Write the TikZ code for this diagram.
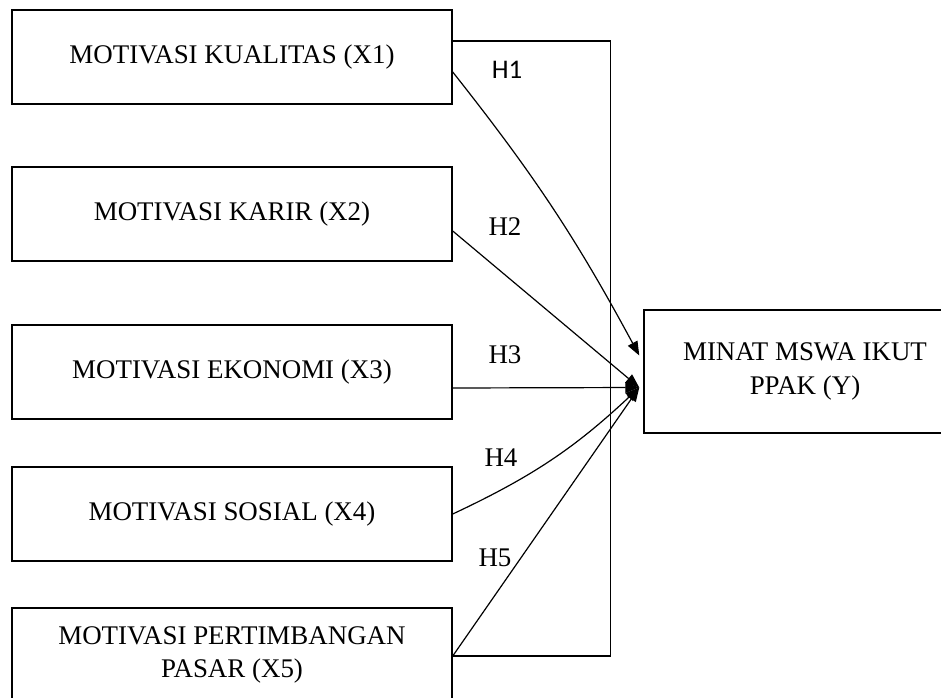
\documentclass[tikz,border=0pt]{standalone}
\usepackage{fontspec}
\setmainfont{Liberation Serif}
\newfontfamily\hlabelfont{Carlito}
\usetikzlibrary{arrows.meta}

\begin{document}
\begin{tikzpicture}[
  x=0.75pt, y=-0.75pt,
  every node/.style={
    font=\fontsize{20.2}{25}\selectfont,
    inner sep=0pt
  },
  varbox/.style={
    rectangle,
    draw,
    line width=1.1pt,
    minimum width=330pt,
    minimum height=70.5pt,
    align=center
  },
  link/.style={
    -{Triangle[length=10.5pt,width=8pt]},
    line width=0.9pt
  }
]
  \useasboundingbox (0,0) rectangle (941,698);

  \node[varbox] (x1) at (232,57) {MOTIVASI KUALITAS (X1)};
  \node[varbox] (x2) at (232,214) {MOTIVASI KARIR (X2)};
  \node[varbox] (x3) at (232,372) {MOTIVASI EKONOMI (X3)};
  \node[varbox] (x4) at (232,514) {MOTIVASI SOSIAL (X4)};
  \node[varbox] (x5) at (232,655) {MOTIVASI PERTIMBANGAN\\PASAR (X5)};

  \node[varbox, minimum width=241.5pt, minimum height=92.25pt] (minat) at (805,371.5) {MINAT MSWA IKUT\\PPAK (Y)};

  \coordinate (tipa) at ([shift={(-4,-16)}]minat.west);
  \coordinate (tipb) at ([shift={(-4,16)}]minat.west);

  \draw[line width=0.9pt] ([shift={(0,-16)}]x1.east) -| ([shift={(158,1)}]x5.east) -- ([shift={(0,1)}]x5.east);

  \draw[link] ([shift={(0,15)}]x1.east) to[bend left=5] (tipa);
  \draw[link] ([shift={(0,17)}]x2.east) -- (tipb);
  \draw[link] ([shift={(0,16)}]x3.east) -- (tipb);
  \draw[link] (x4.east) to[bend right=9] (tipb);
  \draw[link] ([shift={(0,1)}]x5.east) -- (tipb);

  \node[font=\hlabelfont\fontsize{20.2}{25}\selectfont] (h1) at (507,70) {H1};
  \node (h2) at (505,227) {H2};
  \node (h3) at (505,355) {H3};
  \node (h4) at (501,458) {H4};
  \node (h5) at (495,558) {H5};
\end{tikzpicture}
\end{document}
